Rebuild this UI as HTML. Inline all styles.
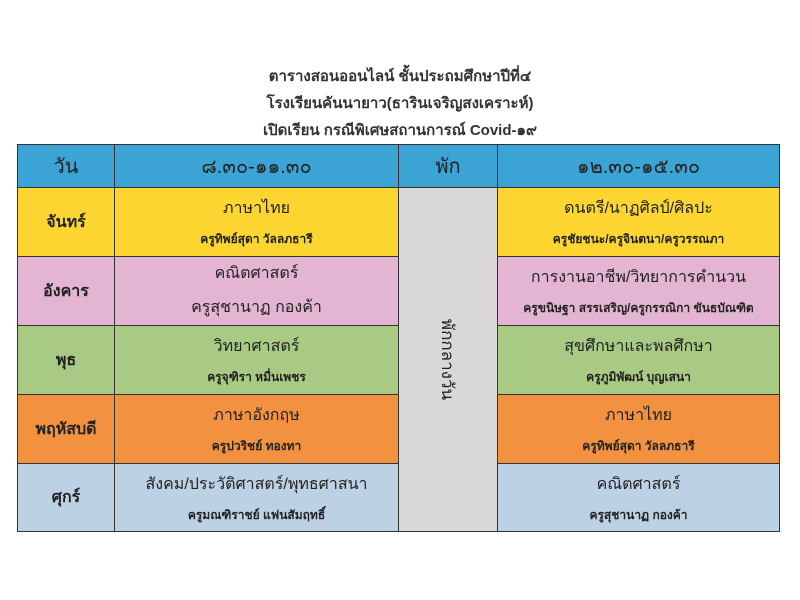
<!DOCTYPE html>
<html><head><meta charset="utf-8"><style>
body{margin:0;width:800px;height:600px;background:#fff;font-family:"Liberation Sans","DejaVu Sans",sans-serif;color:#222;position:relative;overflow:hidden}
.t{position:absolute;left:0;width:800px;text-align:center;font-size:15px;font-weight:bold;color:#333}
.c{position:absolute;box-sizing:border-box;border:1px solid #333;display:flex;flex-direction:column;justify-content:center;align-items:center;text-align:center}
.h{font-size:20px}
.s{font-size:16px;line-height:34px;font-weight:500}
.d{font-weight:bold;font-size:16px}
.n{font-size:12px;line-height:26px;font-weight:bold}
</style></head><body>
<div class="t" style="top:64px">ตารางสอนออนไลน์ ชั้นประถมศึกษาปีที่๔</div>
<div class="t" style="top:91px">โรงเรียนคันนายาว(ธารินเจริญสงเคราะห์)</div>
<div class="t" style="top:118px">เปิดเรียน กรณีพิเศษสถานการณ์ Covid-๑๙</div>

<div class="c h" style="left:17px;top:144px;width:98px;height:44px;background:#3ba4d5">วัน</div>
<div class="c h" style="left:114px;top:144px;width:285px;height:44px;background:#3ba4d5">๘.๓๐-๑๑.๓๐</div>
<div class="c h" style="left:398px;top:144px;width:100px;height:44px;background:#3ba4d5">พัก</div>
<div class="c h" style="left:497px;top:144px;width:283px;height:44px;background:#3ba4d5">๑๒.๓๐-๑๕.๓๐</div>

<div class="c" style="left:398px;top:187px;width:100px;height:345px;background:#dad8d6"><div style="transform:rotate(90deg);font-size:17px;white-space:nowrap;margin-top:0px">พักกลางวัน</div></div>

<div class="c d" style="left:17px;top:187px;width:98px;height:70px;background:#fed631">จันทร์</div>
<div class="c" style="left:114px;top:187px;width:285px;height:70px;background:#fed631"><div class="s">ภาษาไทย</div><div class="n">ครูทิพย์สุดา วัลลภธารี</div></div>
<div class="c" style="left:497px;top:187px;width:283px;height:70px;background:#fed631"><div class="s">ดนตรี/นาฏศิลป์/ศิลปะ</div><div class="n">ครูชัยชนะ/ครูจินตนา/ครูวรรณภา</div></div>

<div class="c d" style="left:17px;top:256px;width:98px;height:70px;background:#e3b5d3">อังคาร</div>
<div class="c" style="left:114px;top:256px;width:285px;height:70px;background:#e3b5d3"><div class="s">คณิตศาสตร์</div><div class="s">ครูสุชานาฏ กองค้า</div></div>
<div class="c" style="left:497px;top:256px;width:283px;height:70px;background:#e3b5d3"><div class="s">การงานอาชีพ/วิทยาการคำนวน</div><div class="n">ครูขนิษฐา สรรเสริญ/ครูกรรณิกา ขันธบัณฑิต</div></div>

<div class="c d" style="left:17px;top:325px;width:98px;height:70px;background:#a9ca84">พุธ</div>
<div class="c" style="left:114px;top:325px;width:285px;height:70px;background:#a9ca84"><div class="s">วิทยาศาสตร์</div><div class="n">ครูจุฑิรา หมื่นเพชร</div></div>
<div class="c" style="left:497px;top:325px;width:283px;height:70px;background:#a9ca84"><div class="s">สุขศึกษาและพลศึกษา</div><div class="n">ครูภูมิพัฒน์ บุญเสนา</div></div>

<div class="c d" style="left:17px;top:394px;width:98px;height:70px;background:#f29240">พฤหัสบดี</div>
<div class="c" style="left:114px;top:394px;width:285px;height:70px;background:#f29240"><div class="s">ภาษาอังกฤษ</div><div class="n">ครูปวริชย์ ทองทา</div></div>
<div class="c" style="left:497px;top:394px;width:283px;height:70px;background:#f29240"><div class="s">ภาษาไทย</div><div class="n">ครูทิพย์สุดา วัลลภธารี</div></div>

<div class="c d" style="left:17px;top:463px;width:98px;height:69px;background:#bdd1e5">ศุกร์</div>
<div class="c" style="left:114px;top:463px;width:285px;height:69px;background:#bdd1e5"><div class="s">สังคม/ประวัติศาสตร์/พุทธศาสนา</div><div class="n">ครูมณฑิราชย์ แฟนสัมฤทธิ์</div></div>
<div class="c" style="left:497px;top:463px;width:283px;height:69px;background:#bdd1e5"><div class="s">คณิตศาสตร์</div><div class="n">ครูสุชานาฏ กองค้า</div></div>
</body></html>
